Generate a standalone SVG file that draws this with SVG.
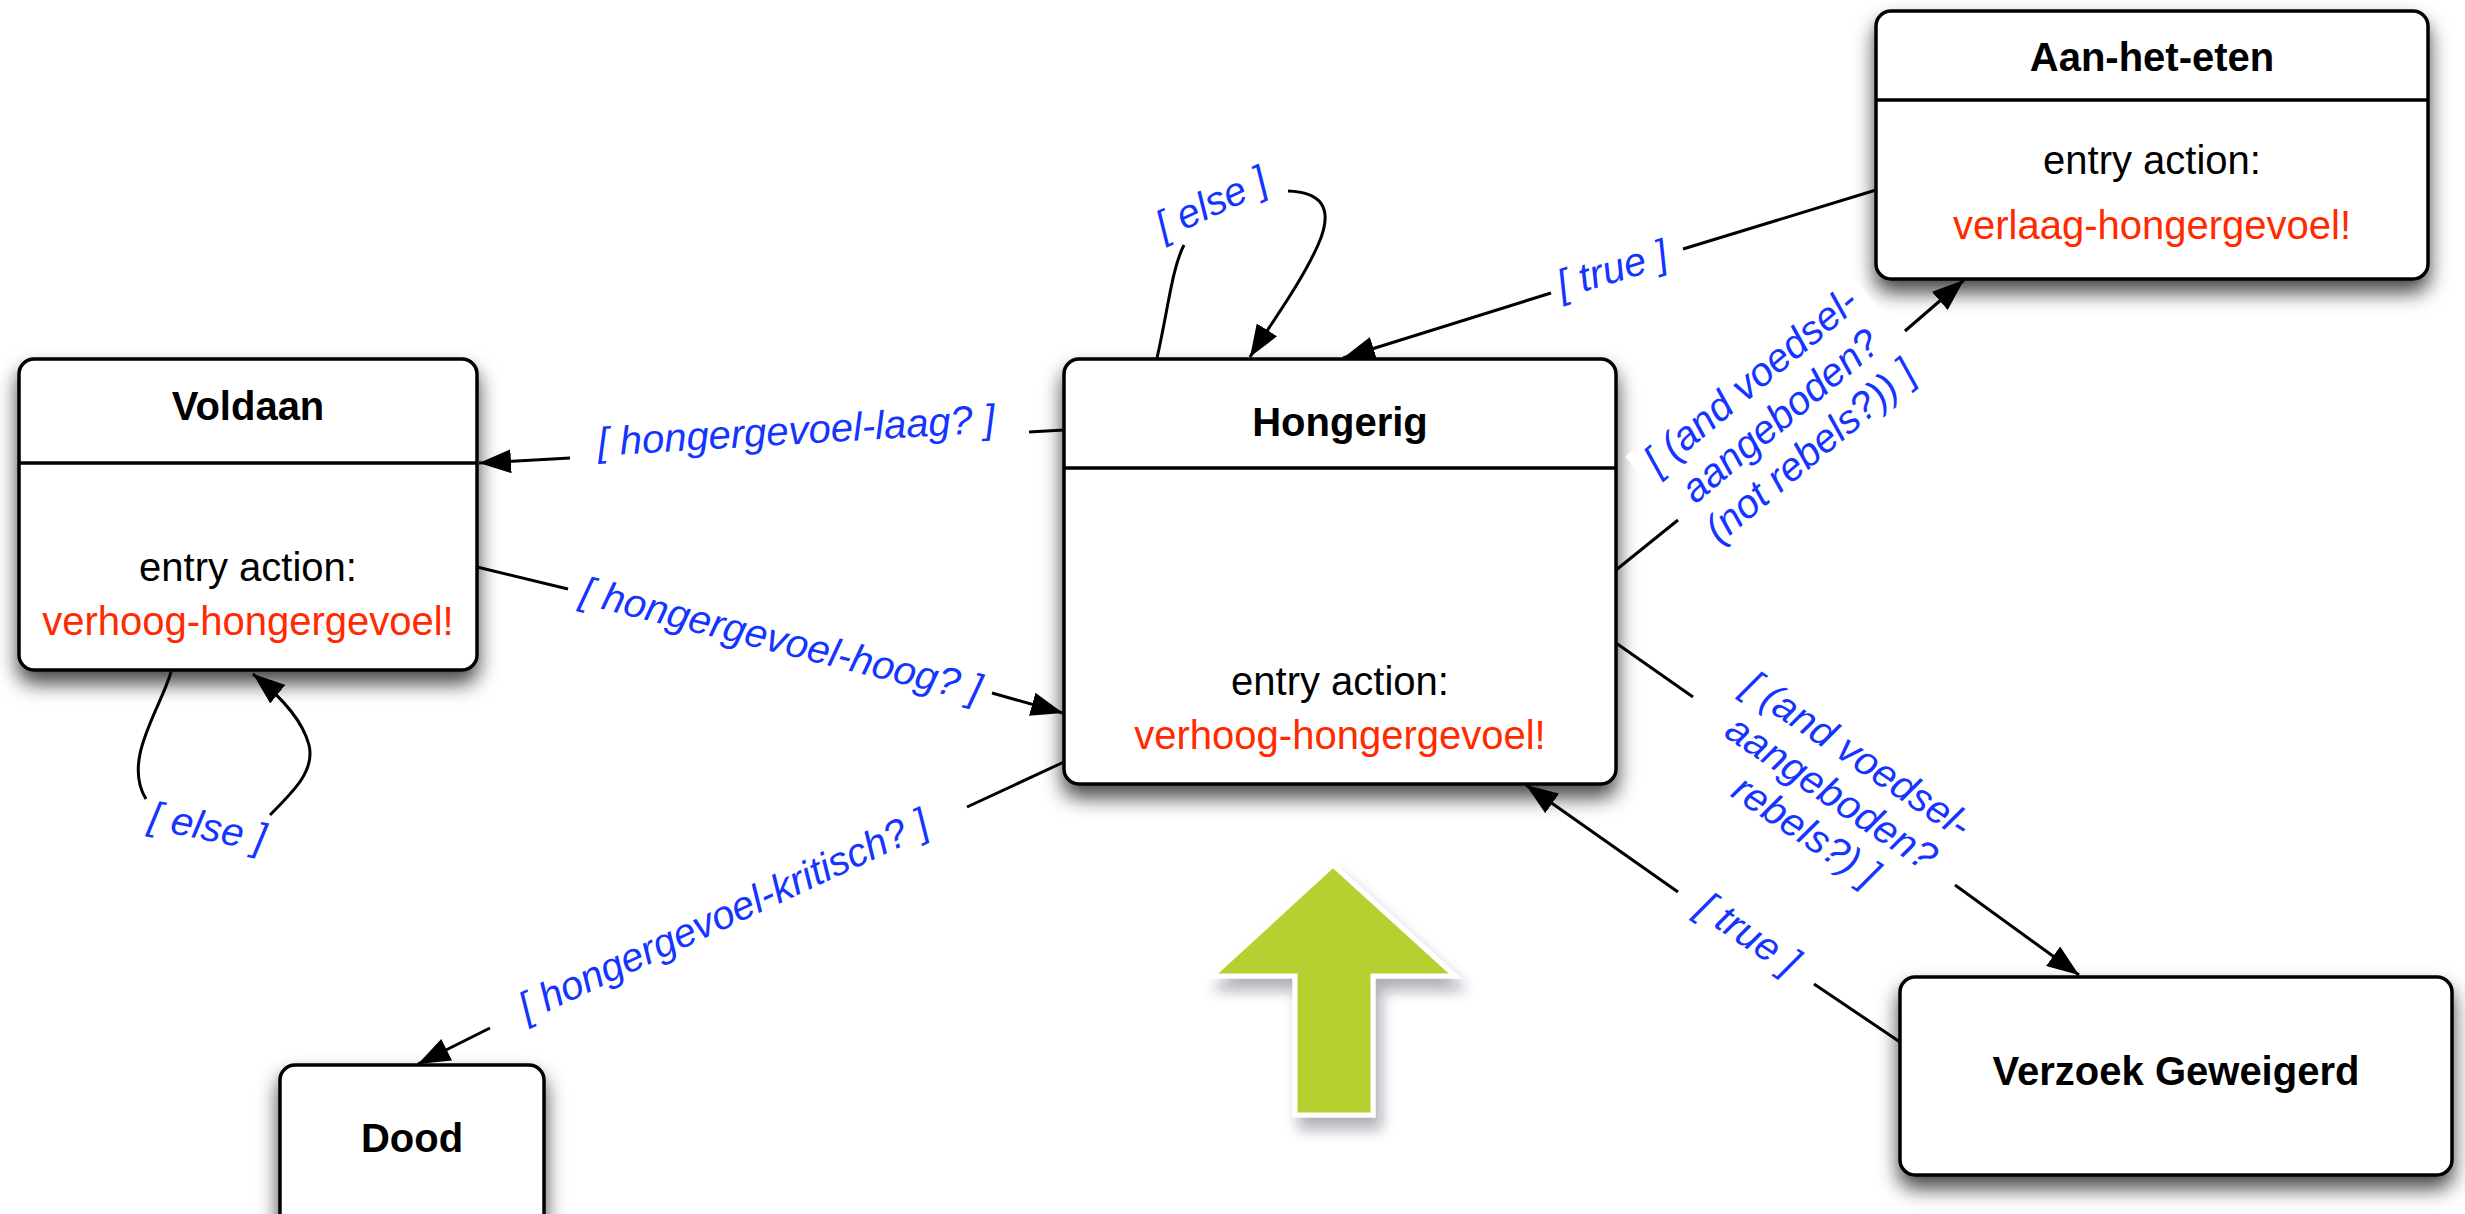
<svg xmlns="http://www.w3.org/2000/svg" width="2465" height="1214" viewBox="0 0 2465 1214">
  <defs>
    <filter id="shadow" x="-15%" y="-15%" width="130%" height="150%">
      <feDropShadow dx="0" dy="12" stdDeviation="10" flood-color="#000" flood-opacity="0.72"/>
    </filter>
    <filter id="softShadow" x="-20%" y="-20%" width="150%" height="150%">
      <feDropShadow dx="6" dy="12" stdDeviation="7" flood-color="#223" flood-opacity="0.35"/>
    </filter>
    <marker id="arrow" markerUnits="userSpaceOnUse" viewBox="0 0 32 24" refX="32" refY="12" markerWidth="32" markerHeight="24" orient="auto">
      <path d="M0,0 L32,12 L0,24 z" fill="#000"/>
    </marker>
    <style>
      .box { fill: #fff; stroke: #000; stroke-width: 3.5; }
      .divider { stroke: #000; stroke-width: 3.5; }
      .title { font-family: "Liberation Sans", Arial, sans-serif; font-weight: bold; font-size: 40px; fill: #000; text-anchor: middle; }
      .body { font-family: "Liberation Sans", Arial, sans-serif; font-size: 40px; fill: #000; text-anchor: middle; }
      .action { font-family: "Liberation Sans", Arial, sans-serif; font-size: 40px; fill: #ff2a00; text-anchor: middle; }
      .guard { font-family: "Liberation Sans", Arial, sans-serif; font-style: italic; font-size: 40px; fill: #1434ff; text-anchor: middle; }
      .edge { fill: none; stroke: #000; stroke-width: 3; }
    </style>
  </defs>

  <rect width="2465" height="1214" fill="#fff"/>

  <!-- states -->
  <g id="voldaan">
    <rect class="box" x="19" y="359" width="458" height="311" rx="15" filter="url(#shadow)"/>
    <line class="divider" x1="19" y1="463" x2="477" y2="463"/>
    <text class="title" x="248" y="420">Voldaan</text>
    <text class="body" x="248" y="581">entry action:</text>
    <text class="action" x="248" y="635">verhoog-hongergevoel!</text>
  </g>

  <g id="hongerig">
    <rect class="box" x="1064" y="359" width="552" height="425" rx="15" filter="url(#shadow)"/>
    <line class="divider" x1="1064" y1="468" x2="1616" y2="468"/>
    <text class="title" x="1340" y="436">Hongerig</text>
    <text class="body" x="1340" y="695">entry action:</text>
    <text class="action" x="1340" y="749">verhoog-hongergevoel!</text>
  </g>

  <g id="aan-het-eten">
    <rect class="box" x="1876" y="11" width="552" height="268" rx="15" filter="url(#shadow)"/>
    <line class="divider" x1="1876" y1="100" x2="2428" y2="100"/>
    <text class="title" x="2152" y="71">Aan-het-eten</text>
    <text class="body" x="2152" y="174">entry action:</text>
    <text class="action" x="2152" y="239">verlaag-hongergevoel!</text>
  </g>

  <g id="verzoek-geweigerd">
    <rect class="box" x="1900" y="977" width="552" height="198" rx="15" filter="url(#shadow)"/>
    <text class="title" x="2176" y="1085">Verzoek Geweigerd</text>
  </g>

  <g id="dood">
    <rect class="box" x="280" y="1065" width="264" height="200" rx="15" filter="url(#shadow)"/>
    <text class="title" x="412" y="1152">Dood</text>
  </g>

  <!-- transitions -->
  <g id="connectors">
    <!-- Hongerig -> Voldaan -->
    <path class="edge" d="M1064,430 L1029,432"/>
    <path class="edge" d="M570,458 L479,463" marker-end="url(#arrow)"/>
    <!-- Voldaan -> Hongerig -->
    <path class="edge" d="M477,567 L568,589"/>
    <path class="edge" d="M992,693 L1063,713" marker-end="url(#arrow)"/>
    <!-- Hongerig self loop -->
    <path class="edge" d="M1157,358 C1168,310 1172,268 1184,245"/>
    <path class="edge" d="M1288,191 C1318,192 1336,205 1318,245 C1300,285 1270,325 1250,357" marker-end="url(#arrow)"/>
    <!-- Aan-het-eten -> Hongerig -->
    <path class="edge" d="M1876,190 L1683,249"/>
    <path class="edge" d="M1551,293 L1343,358" marker-end="url(#arrow)"/>
    <!-- Hongerig -> Aan-het-eten -->
    <path class="edge" d="M1616,570 L1678,520"/>
    <path class="edge" d="M1905,331 L1964,280" marker-end="url(#arrow)"/>
    <!-- Hongerig -> Verzoek Geweigerd -->
    <path class="edge" d="M1616,643 L1693,697"/>
    <path class="edge" d="M1955,885 L2079,975" marker-end="url(#arrow)"/>
    <!-- Verzoek Geweigerd -> Hongerig -->
    <path class="edge" d="M1900,1042 L1814,984"/>
    <path class="edge" d="M1678,892 L1526,785" marker-end="url(#arrow)"/>
    <!-- Hongerig -> Dood -->
    <path class="edge" d="M1064,762 L967,807"/>
    <path class="edge" d="M490,1028 L418,1064" marker-end="url(#arrow)"/>
    <!-- Voldaan self loop -->
    <path class="edge" d="M171,672 C160,710 122,760 146,799"/>
    <path class="edge" d="M270,815 C295,790 315,770 309,745 C303,722 285,700 253,674" marker-end="url(#arrow)"/>
  </g>

  <!-- guards -->
  <g id="guards">
    <text class="guard" transform="translate(797,444) rotate(-3.4)">[ hongergevoel-laag? ]</text>
    <text class="guard" transform="translate(778,653) rotate(14)">[ hongergevoel-hoog? ]</text>
    <text class="guard" transform="translate(1217,215) rotate(-25)">[ else ]</text>
    <text class="guard" transform="translate(205,840) rotate(11.5)">[ else ]</text>
    <text class="guard" transform="translate(1616,282) rotate(-17)">[ true ]</text>
    <g transform="translate(1789,426) rotate(-40)">
      <rect x="-145" y="-82" width="290" height="146" fill="#fff"/>
      <text class="guard"><tspan x="0" y="-46">[ (and voedsel-</tspan><tspan x="0" y="0">aangeboden?</tspan><tspan x="0" y="46">(not rebels?)) ]</tspan></text>
    </g>
    <text class="guard" transform="translate(1824,804) rotate(34)"><tspan x="0" y="-46">[ (and voedsel-</tspan><tspan x="0" y="0">aangeboden?</tspan><tspan x="0" y="46">rebels?) ]</tspan></text>
    <text class="guard" transform="translate(1741,945) rotate(34)">[ true ]</text>
    <text class="guard" transform="translate(729,927) rotate(-25)">[ hongergevoel-kritisch? ]</text>
  </g>

  <!-- highlight arrow -->
  <polygon id="highlight-arrow" points="1333,865 1455,976 1373,976 1373,1115 1295,1115 1295,976 1212,976" fill="#b8cf30" stroke="#fff" stroke-width="5" filter="url(#softShadow)"/>
</svg>
